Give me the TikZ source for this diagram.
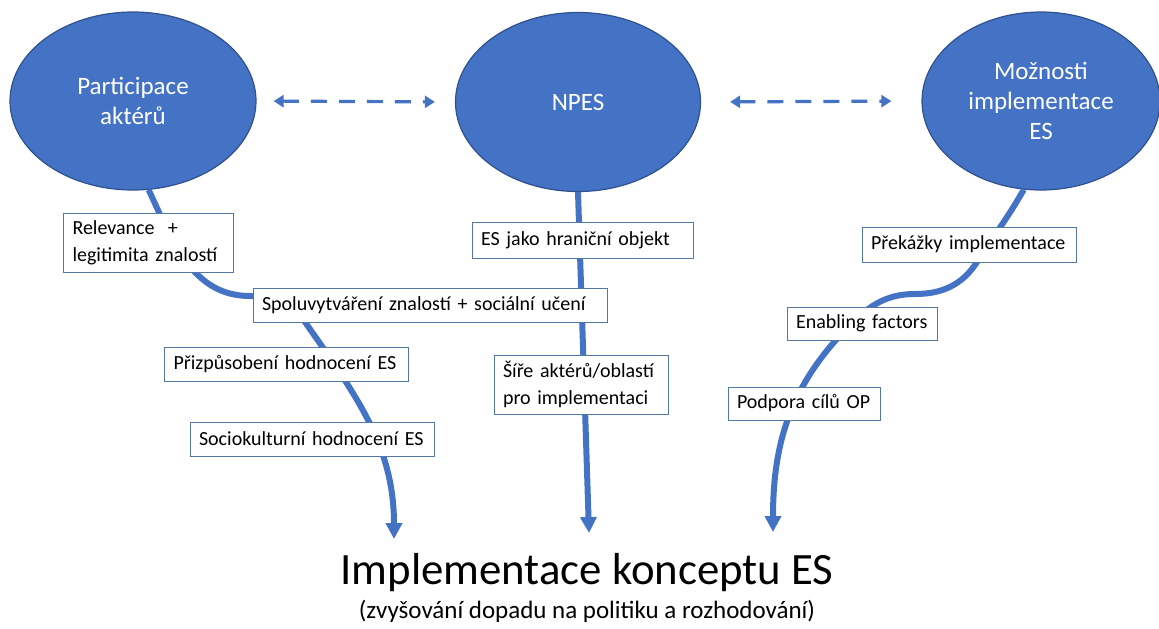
\documentclass[tikz,border=0pt]{standalone}
\usepackage{fontspec}
\setmainfont{Carlito}
\usetikzlibrary{arrows.meta,shapes.geometric,positioning}
\definecolor{esblue}{HTML}{4472C4}
\definecolor{esedge}{HTML}{2F528F}
\definecolor{tagedge}{HTML}{5478A4}

\begin{document}
\begin{tikzpicture}[x=0.5pt,y=0.5pt,
  blob/.style={ellipse, fill=esblue, draw=esedge, line width=0.6pt, inner sep=0pt,
    text=white, align=center, font=\fontsize{12.5}{15}\selectfont},
  tag/.style={draw=tagedge, fill=white, line width=0.5pt, inner xsep=4.5pt, inner ysep=0pt,
    align=left, font=\fontsize{10}{13.5}\selectfont},
  flow/.style={esblue, line width=3pt, -{Triangle[width=8pt,length=8pt]}},
  link/.style={esblue, line width=1.6pt, dash pattern=on 8pt off 6pt,
    {Triangle[width=6pt,length=5pt]}-{Triangle[width=6pt,length=5pt]}}]
\useasboundingbox (0,0) rectangle (1159,-628);

% Three main concepts
\node[blob, minimum width=123pt, minimum height=89pt] (part) at (133,-101) {Participace\\aktérů};
\node[blob, minimum width=122.5pt, minimum height=89.5pt] (npes) at (578,-102) {NPES};
\node[blob, minimum width=119pt, minimum height=89pt] (imp) at (1041,-101) {Možnosti\\implementace\\ES};

\draw[link, shorten <=8.5pt, shorten >=10pt] (part.east) -- (npes.west);
\draw[link, shorten <=14.5pt, shorten >=15pt] (npes.east) -- (imp.west);

% Paths towards implementation
\coordinate (l1) at (250,-296);
\coordinate (l2) at (305,-322);
\coordinate (ltip) at (394,-539);
\draw[flow] (part.-80) to[out=-65,in=180] (l1) to[out=0,in=125] (l2) to[out=-55,in=90] (ltip);

\coordinate (mtip) at (589,-533);
\draw[flow] (npes.south) -- (mtip);

\coordinate (r1) at (977,-262);
\coordinate (r2) at (915,-294);
\coordinate (r3) at (850,-325);
\coordinate (rtip) at (773,-532);
\draw[flow] (imp.-101) to[out=-120,in=57] (r1) to[out=-123,in=0] (r2)
  to[out=180,in=45] (r3) to[out=-135,in=90] (rtip);

% Labels along the paths
\node[tag, text width=76pt, minimum height=29.5pt] (rel) at (148.5,-242.5) {Relevance~ +\\legitimita znalostí};
\node[tag, text width=168pt, minimum height=17pt] (spol) at (430,-305) {Spoluvytváření znalostí + sociální učení};
\node[tag, text width=113pt, minimum height=17pt] (priz) at (286.5,-364) {Přizpůsobení hodnocení ES};
\node[tag, text width=113pt, minimum height=17pt] (socio) at (312,-439) {Sociokulturní hodnocení ES};

\node[tag, text width=101.5pt, minimum height=18pt] (hran) at (582.5,-240) {ES jako hraniční objekt};
\node[tag, text width=78pt, minimum height=29.5pt] (sire) at (581,-384.5) {Šíře aktérů/oblastí\\pro implementaci};

\node[tag, text width=98pt, minimum height=17.5pt] (prek) at (969,-244.5) {Překážky implementace};
\node[tag, text width=66pt, minimum height=16.5pt] (enab) at (862,-323.5) {Enabling factors};
\node[tag, text width=67pt, minimum height=16.5pt] (podp) at (804,-403.5) {Podpora cílů OP};

% Goal
\node[font=\fontsize{22.4}{25}\selectfont] (goal) at (587,-573) {Implementace konceptu ES};
\node[font=\fontsize{12.5}{14}\selectfont, below=-3pt of goal] (goalsub) {(zvyšování dopadu na politiku a rozhodování)};

\end{tikzpicture}
\end{document}
